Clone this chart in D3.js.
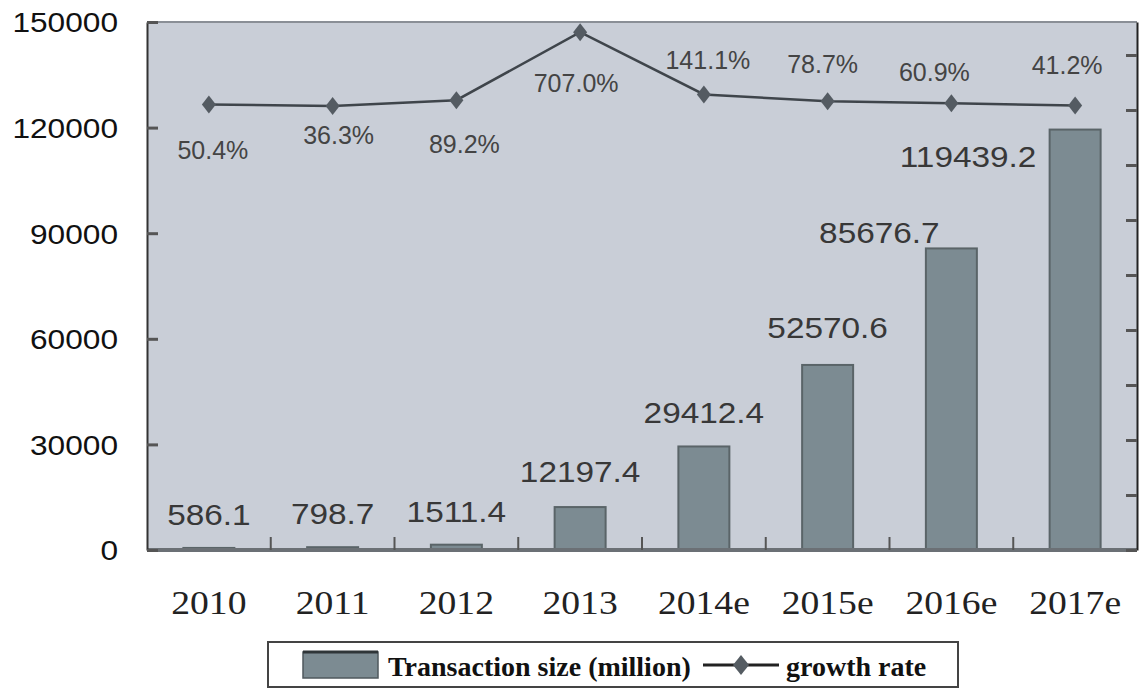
<!DOCTYPE html>
<html>
<head>
<meta charset="utf-8">
<script src="https://cdn.jsdelivr.net/npm/d3@7"></script>
<style>
  html, body { margin: 0; padding: 0; background: #ffffff; }
  svg { display: block; }
</style>
</head>
<body>
<svg id="chart" width="1140" height="690"></svg>
<script>
// Categories and series
const years = ["2010", "2011", "2012", "2013", "2014e", "2015e", "2016e", "2017e"];
const transactionSize = [586.1, 798.7, 1511.4, 12197.4, 29412.4, 52570.6, 85676.7, 119439.2];
const growthRate = [50.4, 36.3, 89.2, 707.0, 141.1, 78.7, 60.9, 41.2];
const sizeTicks = [0, 30000, 60000, 90000, 120000, 150000];
const rateTicks = [-4000, -3500, -3000, -2500, -2000, -1500, -1000, -500, 0, 500];
const legendLabels = ["Transaction size (million)", "growth rate"];

const svg = d3.select("#chart");
const plot = { left: 147, right: 1137, top: 22, bottom: 550 };

const x = d3.scaleBand()
  .domain(years)
  .range([plot.left, plot.right])
  .paddingInner(0.588)
  .paddingOuter(0.294);

const y = d3.scaleLinear().domain([0, 150000]).range([plot.bottom, plot.top]);
const yRate = d3.scaleLinear().domain([-4000, 800]).range([plot.bottom, plot.top]);

const cx = d => x(d) + x.bandwidth() / 2;

// widen text horizontally by a factor
function stretch(sel, k) {
  sel.each(function () {
    const w = this.getComputedTextLength();
    d3.select(this).attr("textLength", w * k).attr("lengthAdjust", "spacingAndGlyphs");
  });
}

// plot background
svg.append("rect")
  .attr("x", plot.left).attr("y", plot.top)
  .attr("width", plot.right - plot.left).attr("height", plot.bottom - plot.top)
  .attr("fill", "#c9ced7");

// top border
svg.append("line")
  .attr("x1", plot.left).attr("x2", plot.right)
  .attr("y1", plot.top).attr("y2", plot.top)
  .attr("stroke", "#8a8f96").attr("stroke-width", 2);

// bars
svg.append("g").selectAll("rect")
  .data(years)
  .join("rect")
  .attr("x", d => x(d))
  .attr("width", x.bandwidth())
  .attr("y", (d, i) => y(transactionSize[i]))
  .attr("height", (d, i) => y(0) - y(transactionSize[i]))
  .attr("fill", "#7c8b92")
  .attr("stroke", "#5a6468")
  .attr("stroke-width", 2);

// bar value labels: offsets from bar centre / bar top
const barLabelShift = [[0, -23], [0, -23], [0, -23], [0, -25], [0, -23], [0, -27], [-72, -5], [-107, 37]];
svg.append("g").selectAll("text")
  .data(years)
  .join("text")
  .attr("x", (d, i) => cx(d) + barLabelShift[i][0])
  .attr("y", (d, i) => y(transactionSize[i]) + barLabelShift[i][1])
  .attr("text-anchor", "middle")
  .attr("font-family", "'Liberation Sans', Arial, sans-serif")
  .attr("font-size", 29)
  .attr("fill", "#383838")
  .text((d, i) => d3.format(".1f")(transactionSize[i]))
  .call(stretch, 1.15);

// bottom axis line and category separators
svg.append("line")
  .attr("x1", plot.left).attr("x2", plot.right)
  .attr("y1", plot.bottom).attr("y2", plot.bottom)
  .attr("stroke", "#6b7075").attr("stroke-width", 4);

const gap = x.step() - x.bandwidth();
svg.append("g").selectAll("line")
  .data(years.slice(1))
  .join("line")
  .attr("x1", d => x(d) - gap / 2).attr("x2", d => x(d) - gap / 2)
  .attr("y1", plot.bottom).attr("y2", plot.bottom - 13)
  .attr("stroke", "#555").attr("stroke-width", 2);

// category labels
svg.append("g").selectAll("text")
  .data(years)
  .join("text")
  .attr("x", d => cx(d))
  .attr("y", 614)
  .attr("text-anchor", "middle")
  .attr("font-family", "'Liberation Serif', 'Times New Roman', serif")
  .attr("font-size", 33)
  .attr("fill", "#222")
  .text(d => d)
  .call(stretch, 1.14);

// left axis
const leftAxis = svg.append("g")
  .attr("transform", `translate(${plot.left},0)`)
  .call(d3.axisLeft(y).tickValues(sizeTicks).tickFormat(d3.format("d"))
    .tickSizeInner(-11).tickSizeOuter(0).tickPadding(29));
leftAxis.select(".domain").attr("stroke", "#333").attr("stroke-width", 2);
leftAxis.selectAll(".tick line").attr("stroke", "#555").attr("stroke-width", 3);
leftAxis.selectAll(".tick text")
  .attr("font-family", "'Liberation Sans', Arial, sans-serif")
  .attr("font-size", 28)
  .attr("fill", "#111")
  .attr("dy", "0.35em")
  .call(stretch, 1.13);

// right axis (growth rate scale, unlabeled)
const rightAxis = svg.append("g")
  .attr("transform", `translate(${plot.right},0)`)
  .call(d3.axisRight(yRate).tickValues(rateTicks).tickSizeInner(-11).tickSizeOuter(0).tickFormat(""));
rightAxis.select(".domain").attr("stroke", "#222").attr("stroke-width", 2);
rightAxis.selectAll(".tick line").attr("stroke", "#555").attr("stroke-width", 3);

// growth rate line
const line = d3.line()
  .x((d, i) => cx(years[i]))
  .y(d => yRate(d));

svg.append("path")
  .datum(growthRate)
  .attr("d", line)
  .attr("fill", "none")
  .attr("stroke", "#3f454b")
  .attr("stroke-width", 2.5);

const diamond = "M0,-9L7,0L0,9L-7,0Z";
svg.append("g").selectAll("path")
  .data(growthRate)
  .join("path")
  .attr("transform", (d, i) => `translate(${cx(years[i])},${yRate(d)})`)
  .attr("d", diamond)
  .attr("fill", "#545b62");

// growth rate labels: offsets from markers
const rateLabelShift = [[4, 55], [6, 38], [8, 53], [-4, 60], [4, -25], [-5, -28], [-17, -22], [-8, -31]];
svg.append("g").selectAll("text")
  .data(growthRate)
  .join("text")
  .attr("x", (d, i) => cx(years[i]) + rateLabelShift[i][0])
  .attr("y", (d, i) => yRate(d) + rateLabelShift[i][1])
  .attr("text-anchor", "middle")
  .attr("font-family", "'Liberation Sans', Arial, sans-serif")
  .attr("font-size", 25)
  .attr("fill", "#444")
  .text(d => d3.format(".1f")(d) + "%");

// legend
const legend = svg.append("g");
legend.append("rect")
  .attr("x", 268).attr("y", 642).attr("width", 690).attr("height", 45)
  .attr("fill", "#ffffff").attr("stroke", "#444").attr("stroke-width", 2);
legend.append("rect")
  .attr("x", 303).attr("y", 652).attr("width", 75).attr("height", 26)
  .attr("fill", "#7c8b92").attr("stroke", "#4f585d").attr("stroke-width", 1.5);
legend.append("line")
  .attr("x1", 303).attr("x2", 378).attr("y1", 652).attr("y2", 652)
  .attr("stroke", "#2f3538").attr("stroke-width", 3);
legend.append("text")
  .attr("x", 388).attr("y", 676)
  .attr("font-family", "'Liberation Serif', 'Times New Roman', serif")
  .attr("font-weight", "bold")
  .attr("font-size", 28)
  .attr("fill", "#111")
  .text(legendLabels[0]);
legend.append("line")
  .attr("x1", 703).attr("x2", 779).attr("y1", 665).attr("y2", 665)
  .attr("stroke", "#222").attr("stroke-width", 3);
legend.append("path")
  .attr("transform", "translate(741,665)")
  .attr("d", "M0,-10L8,0L0,10L-8,0Z")
  .attr("fill", "#555c62");
legend.append("text")
  .attr("x", 786).attr("y", 676)
  .attr("font-family", "'Liberation Serif', 'Times New Roman', serif")
  .attr("font-weight", "bold")
  .attr("font-size", 28)
  .attr("fill", "#111")
  .text(legendLabels[1]);
</script>
</body>
</html>
